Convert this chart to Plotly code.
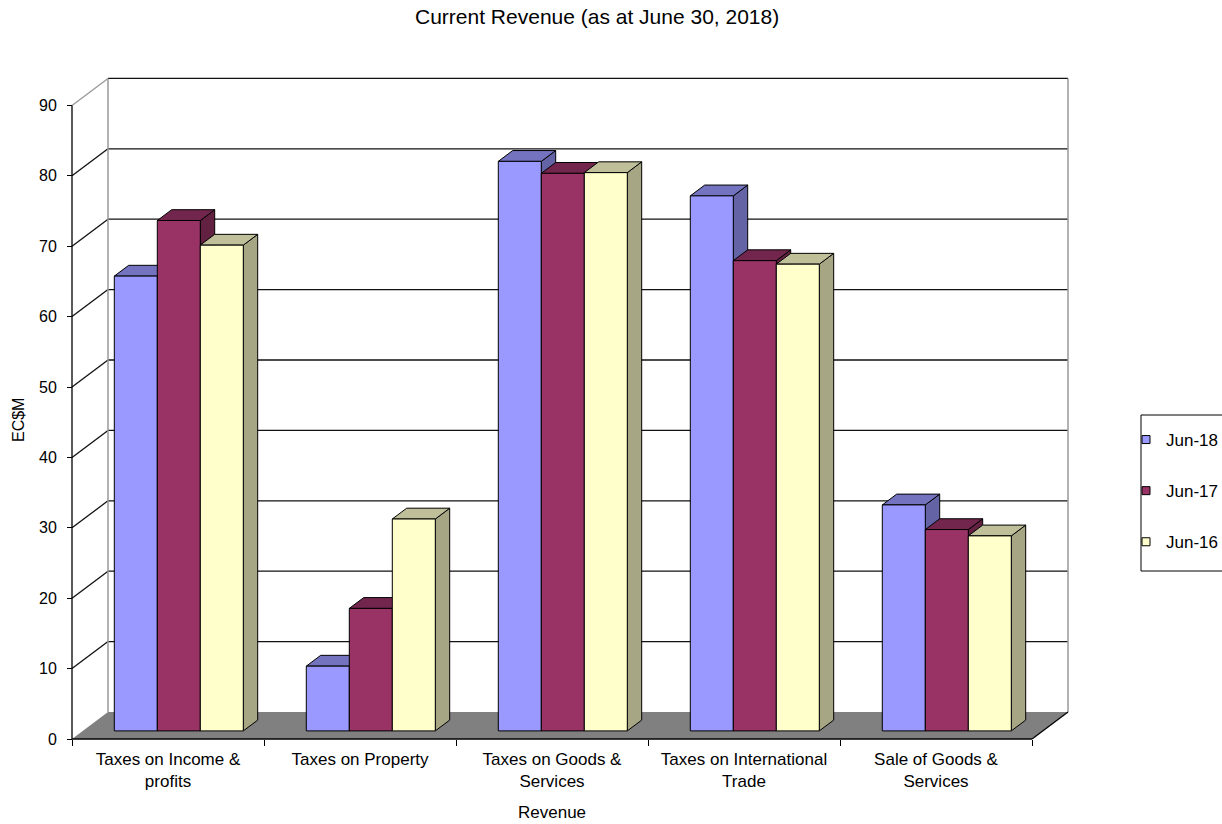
import plotly.graph_objects as go

# ---------------- data ----------------
categories = ["Taxes on Income &<br>profits", "Taxes on Property",
              "Taxes on Goods &<br>Services", "Taxes on International<br>Trade",
              "Sale of Goods &<br>Services"]
series_names = ["Jun-18", "Jun-17", "Jun-16"]
jun18 = [64.6, 9.2, 80.9, 76.0, 32.1]
jun17 = [72.5, 17.4, 79.2, 66.8, 28.6]
jun16 = [69.0, 30.1, 79.3, 66.3, 27.7]
y_ticks = [0, 10, 20, 30, 40, 50, 60, 70, 80, 90]

# ---------------- styles / geometry ----------------
front_colors = ["#9999FF", "#993366", "#FFFFCC"]
top_colors = ["#7373BF", "#73264D", "#BFBF99"]
side_colors = ["#6363A6", "#632142", "#A6A685"]
FONT = "Liberation Sans, Arial, sans-serif"

W, H = 1222, 824
L, R, T, B = 66, 148, 72, 79
PX_X = 192.0          # px per category unit
PX_Y = 7.04           # px per value unit
ORIGIN_X_PX = 72      # px of x=0
ORIGIN_Y_PX = 739     # px of y=0
DX = 36 / PX_X        # depth offset (x units)
DY = 27 / PX_Y        # depth offset (y units)
GROUP_W = 129 / PX_X
BAR_W = GROUP_W / 3
F0 = 0.3              # bar front depth fraction
BD = 0.4              # bar depth fraction

n_cat = len(categories)
y_max = y_ticks[-1]

x_range = [(L - ORIGIN_X_PX) / PX_X, (W - R - ORIGIN_X_PX) / PX_X]
y_range = [(ORIGIN_Y_PX - (H - B)) / PX_Y, (ORIGIN_Y_PX - T) / PX_Y]
plot_w = W - L - R
plot_h = H - T - B


def paper_x(px):
    return (px - L) / plot_w


def paper_y(py):
    return (H - B - py) / plot_h


fig = go.Figure()


def poly(xs, ys, fill, line_color="black", line_width=1):
    fig.add_trace(go.Scatter(
        x=xs + [xs[0]], y=ys + [ys[0]], mode="lines", fill="toself",
        fillcolor=fill, line=dict(color=line_color, width=line_width),
        hoverinfo="skip", showlegend=False))


def line(xs, ys, color="black", width=1.2):
    fig.add_trace(go.Scatter(x=xs, y=ys, mode="lines",
                             line=dict(color=color, width=width),
                             hoverinfo="skip", showlegend=False))


# floor
fig.add_trace(go.Scatter(
    x=[0, n_cat, n_cat + DX, DX, 0], y=[0, 0, DY, DY, 0], mode="lines",
    fill="toself", fillcolor="#808080", line=dict(width=0),
    hoverinfo="skip", showlegend=False))

# back wall gridlines and diagonals
gx, gy = [], []
for v in y_ticks[1:]:
    gx += [DX, n_cat + DX, None]
    gy += [v + DY, v + DY, None]
for v in y_ticks[1:-1]:
    gx += [0, DX, None]
    gy += [v, v + DY, None]
line(gx, gy, "#111111", 1.3)
line([0, DX], [y_max, y_max + DY], "#999999", 1.3)
# wall edges
line([DX, DX, None, n_cat + DX, n_cat + DX],
     [DY, y_max + DY, None, DY, y_max + DY], "#999999", 1.5)
# floor right edge and front edge, front value axis
line([n_cat, n_cat + DX], [0, DY], "black", 1.3)
line([0, n_cat], [0, 0], "black", 1.3)
line([0, 0], [0, y_max], "black", 1.3)

# bars
series = [jun18, jun17, jun16]
for i in range(n_cat):
    for j, vals in enumerate(series):
        v = vals[i]
        xl = i + 0.5 - GROUP_W / 2 + j * BAR_W + F0 * DX
        xr = xl + BAR_W
        yb = F0 * DY
        yt = v + F0 * DY
        ddx, ddy = BD * DX, BD * DY
        # side
        poly([xr, xr + ddx, xr + ddx, xr], [yb, yb + ddy, yt + ddy, yt], side_colors[j])
        # top
        poly([xl, xr, xr + ddx, xl + ddx], [yt, yt, yt + ddy, yt + ddy], top_colors[j])
        # front
        poly([xl, xr, xr, xl], [yb, yb, yt, yt], front_colors[j])

# legend entries
for j, name in enumerate(series_names):
    fig.add_trace(go.Scatter(
        x=[None], y=[None], mode="markers", name=name, legendgroup=name,
        marker=dict(symbol="square", size=8, color=front_colors[j],
                    line=dict(color="black", width=1))))

fig.update_layout(
    width=W, height=H, autosize=False,
    margin=dict(l=L, r=R, t=T, b=B, autoexpand=False),
    paper_bgcolor="white", plot_bgcolor="white",
    font=dict(family=FONT, size=16, color="black"),
    showlegend=True,
    legend=dict(x=paper_x(1126), y=paper_y(422), xanchor="left", yanchor="top",
                borderwidth=0, bgcolor="rgba(0,0,0,0)",
                font=dict(size=17, color="black"), itemwidth=30,
                tracegroupgap=26, traceorder="grouped"),
    shapes=[dict(type="rect", xref="paper", yref="paper",
                 x0=paper_x(1141), x1=paper_x(1240), y0=paper_y(571), y1=paper_y(415),
                 line=dict(color="black", width=1), fillcolor="white", layer="below")],
    xaxis=dict(range=x_range, anchor="free", position=paper_y(ORIGIN_Y_PX),
               tickvals=[i + 0.5 for i in range(n_cat)], ticktext=categories,
               ticks="", showgrid=False, zeroline=False, showline=False,
               tickfont=dict(size=17, color="black"), fixedrange=True,
               ticklabelstandoff=8,
               minor=dict(tickvals=list(range(n_cat + 1)), ticks="outside",
                          ticklen=6, tickcolor="black", tickwidth=1.3,
                          showgrid=False)),
    yaxis=dict(range=y_range, anchor="free", position=paper_x(ORIGIN_X_PX),
               tickvals=y_ticks, ticks="outside", ticklen=5, tickcolor="black",
               tickwidth=1.3, showgrid=False, zeroline=False, showline=False,
               tickfont=dict(size=16, color="black"), fixedrange=True,
               ticklabelstandoff=7),
    annotations=[
        dict(text="Current Revenue (as at June 30, 2018)", xref="paper", yref="paper",
             x=paper_x(597), y=paper_y(16), xanchor="center", yanchor="middle",
             showarrow=False, font=dict(size=21, color="black")),
        dict(text="Revenue", xref="x", yref="paper", x=n_cat / 2, y=paper_y(823),
             xanchor="center", yanchor="bottom", showarrow=False, borderpad=0,
             font=dict(size=17, color="black")),
        dict(text="EC$M", xref="paper", yref="paper", x=paper_x(19), y=paper_y(420),
             xanchor="center", yanchor="middle", textangle=-90, showarrow=False,
             font=dict(size=16, color="black")),
    ],
)

fig.write_html("out.html")
